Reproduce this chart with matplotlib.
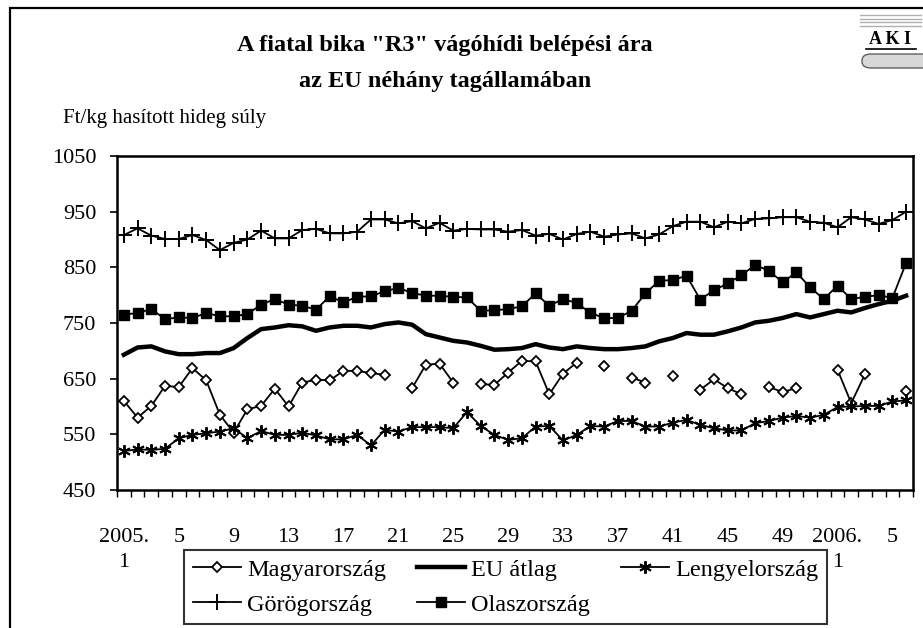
import numpy as np
from matplotlib import pyplot as plt
from matplotlib.patches import Rectangle, FancyBboxPatch

plt.rcParams['font.family'] = ['Liberation Serif', 'DejaVu Serif']

# heti adatok: 2005. 1-52. hét, 2006. 1-6. hét
weeks = list(range(1, 53)) + list(range(1, 7))
nan = np.nan

magyar = [610, 580, 601, 637, 635, 669, 647, 585, 553, 595,
          601, 632, 600, 643, 648, 647, 664, 664, 660, 657,
          nan, 633, 675, 677, 643, nan, 640, 639, 661, 682,
          681, 622, 659, 679, nan, 672, nan, 652, 643, nan,
          655, nan, 630, 649, 633, 622, nan, 635, 626, 633,
          nan, nan, 666, 606, 658, nan, nan, 627]
eu_atlag = [693, 706, 708, 699, 694, 694, 696, 696, 705, 723,
            739, 742, 746, 744, 736, 742, 745, 745, 742, 748,
            751, 747, 730, 724, 718, 715, 709, 702, 703, 705,
            712, 706, 703, 708, 705, 703, 703, 705, 708, 717,
            723, 732, 729, 729, 735, 742, 751, 754, 759, 766,
            760, 766, 772, 769, 777, 784, 790, 799]
lengyel = [520, 523, 522, 524, 543, 549, 552, 555, 561, 543,
           556, 549, 549, 553, 548, 541, 541, 549, 530, 558,
           555, 563, 563, 563, 561, 590, 565, 549, 540, 543,
           564, 565, 539, 549, 565, 564, 574, 574, 564, 564,
           571, 576, 567, 561, 557, 557, 570, 574, 580, 583,
           580, 585, 599, 600, 601, 601, 609, 611]
gorog = [908, 920, 907, 901, 901, 908, 899, 881, 894, 900,
         916, 902, 902, 917, 919, 911, 911, 914, 936, 936,
         929, 933, 920, 930, 916, 919, 918, 918, 914, 917,
         907, 910, 900, 910, 914, 905, 909, 911, 902, 909,
         924, 932, 932, 922, 932, 929, 937, 938, 940, 940,
         932, 930, 922, 940, 936, 928, 935, 950]
olasz = [765, 768, 775, 757, 760, 759, 768, 762, 762, 766,
         783, 793, 783, 781, 774, 798, 787, 797, 798, 807,
         813, 804, 799, 799, 797, 796, 772, 773, 775, 780,
         803, 781, 793, 786, 768, 759, 759, 772, 803, 826,
         827, 835, 792, 809, 821, 836, 854, 844, 823, 841,
         814, 793, 817, 793, 797, 800, 795, 858]

W, H = 923, 628
fig = plt.figure(figsize=(W / 100, H / 100), dpi=100)
fig.patch.set_facecolor('white')

ax = fig.add_axes([117 / W, 1 - 490 / H, (913 - 117) / W, (490 - 156) / H])
x = np.arange(len(weeks))

l_hu, = ax.plot(x, magyar, color='black', lw=1.3, marker='D', ms=5.5,
                mfc='white', mec='black', mew=1.3, label='Magyarország')
l_eu, = ax.plot(x, eu_atlag, color='black', lw=3.2, label='EU átlag')
l_pl, = ax.plot(x, lengyel, color='black', lw=1.3, marker=(6, 2, 0), ms=9,
                mew=1.4, label='Lengyelország')
l_gr, = ax.plot(x, gorog, color='black', lw=1.3, marker='+', ms=11,
                mew=1.4, label='Görögország')
l_it, = ax.plot(x, olasz, color='black', lw=1.3, marker='s', ms=6.5,
                mfc='black', mec='black', label='Olaszország')

ax.set_xlim(-0.5, len(weeks) - 0.5)
ax.set_ylim(450, 1050)
ax.set_yticks(np.arange(450, 1051, 100))
ax.tick_params(axis='y', direction='out', length=5, width=1.2, pad=10,
               labelsize=16)

lbl_pos = list(range(0, len(weeks), 4))
lbls = []
for i in lbl_pos:
    if i == 0:
        lbls.append('2005.\n1')
    elif i == 52:
        lbls.append('2006.\n1')
    else:
        lbls.append(str(weeks[i]))
ax.set_xticks(lbl_pos)
ax.set_xticklabels(lbls, linespacing=1.45)
ax.set_xticks(np.arange(-0.5, len(weeks), 1), minor=True)
ax.tick_params(axis='x', which='major', length=0, pad=27, labelsize=16)
ax.tick_params(axis='x', which='minor', direction='out', length=5, width=1)
for s in ax.spines.values():
    s.set_linewidth(1.8)

fig.text(445 / W, 1 - 46 / H, 'A fiatal bika "R3" vágóhídi belépési ára',
         ha='center', va='center', fontsize=17.5, weight='bold')
fig.text(445 / W, 1 - 81 / H, 'az EU néhány tagállamában',
         ha='center', va='center', fontsize=17.5, weight='bold')
fig.text(63 / W, 1 - 118 / H, 'Ft/kg hasított hideg súly',
         ha='left', va='center', fontsize=15)

leg = fig.legend([l_hu, l_gr, l_eu, l_it, l_pl],
                 ['Magyarország', 'Görögország', 'EU átlag', 'Olaszország',
                  'Lengyelország'],
                 ncol=3, loc='upper left', bbox_to_anchor=(184 / W, 1 - 550 / H),
                 fontsize=17.5, frameon=True, fancybox=False, handlelength=2.0,
                 handletextpad=0.25, columnspacing=1.25, labelspacing=0.55,
                 borderpad=0.35, borderaxespad=0)
leg.get_frame().set_edgecolor('black')
leg.get_frame().set_linewidth(1.5)

# külső keret
fig.patches.append(Rectangle((10 / W, -0.1), 1.2, 1.1 - 8 / H,
                             transform=fig.transFigure, fill=False,
                             lw=1.6, ec='black'))

# AKI logó
for k in range(4):
    fig.add_artist(plt.Line2D([860 / W, 921 / W],
                              [1 - (15 + k * 3.5) / H] * 2,
                              color='#b0b0b0', lw=1))
fig.text(890 / W, 1 - 40 / H, 'A K I', ha='center', va='center',
         fontsize=13, weight='bold')
fig.add_artist(plt.Line2D([866 / W, 916 / W], [1 - 49 / H] * 2,
                          color='black', lw=1.2))
fig.patches.append(FancyBboxPatch((862 / W, 1 - 68 / H), 70 / W, 14 / H,
                                  boxstyle='round,pad=0,rounding_size=0.01',
                                  transform=fig.transFigure, fc='#d8d8d8',
                                  ec='#606060', lw=1))

fig.savefig('out.png', dpi=100)
